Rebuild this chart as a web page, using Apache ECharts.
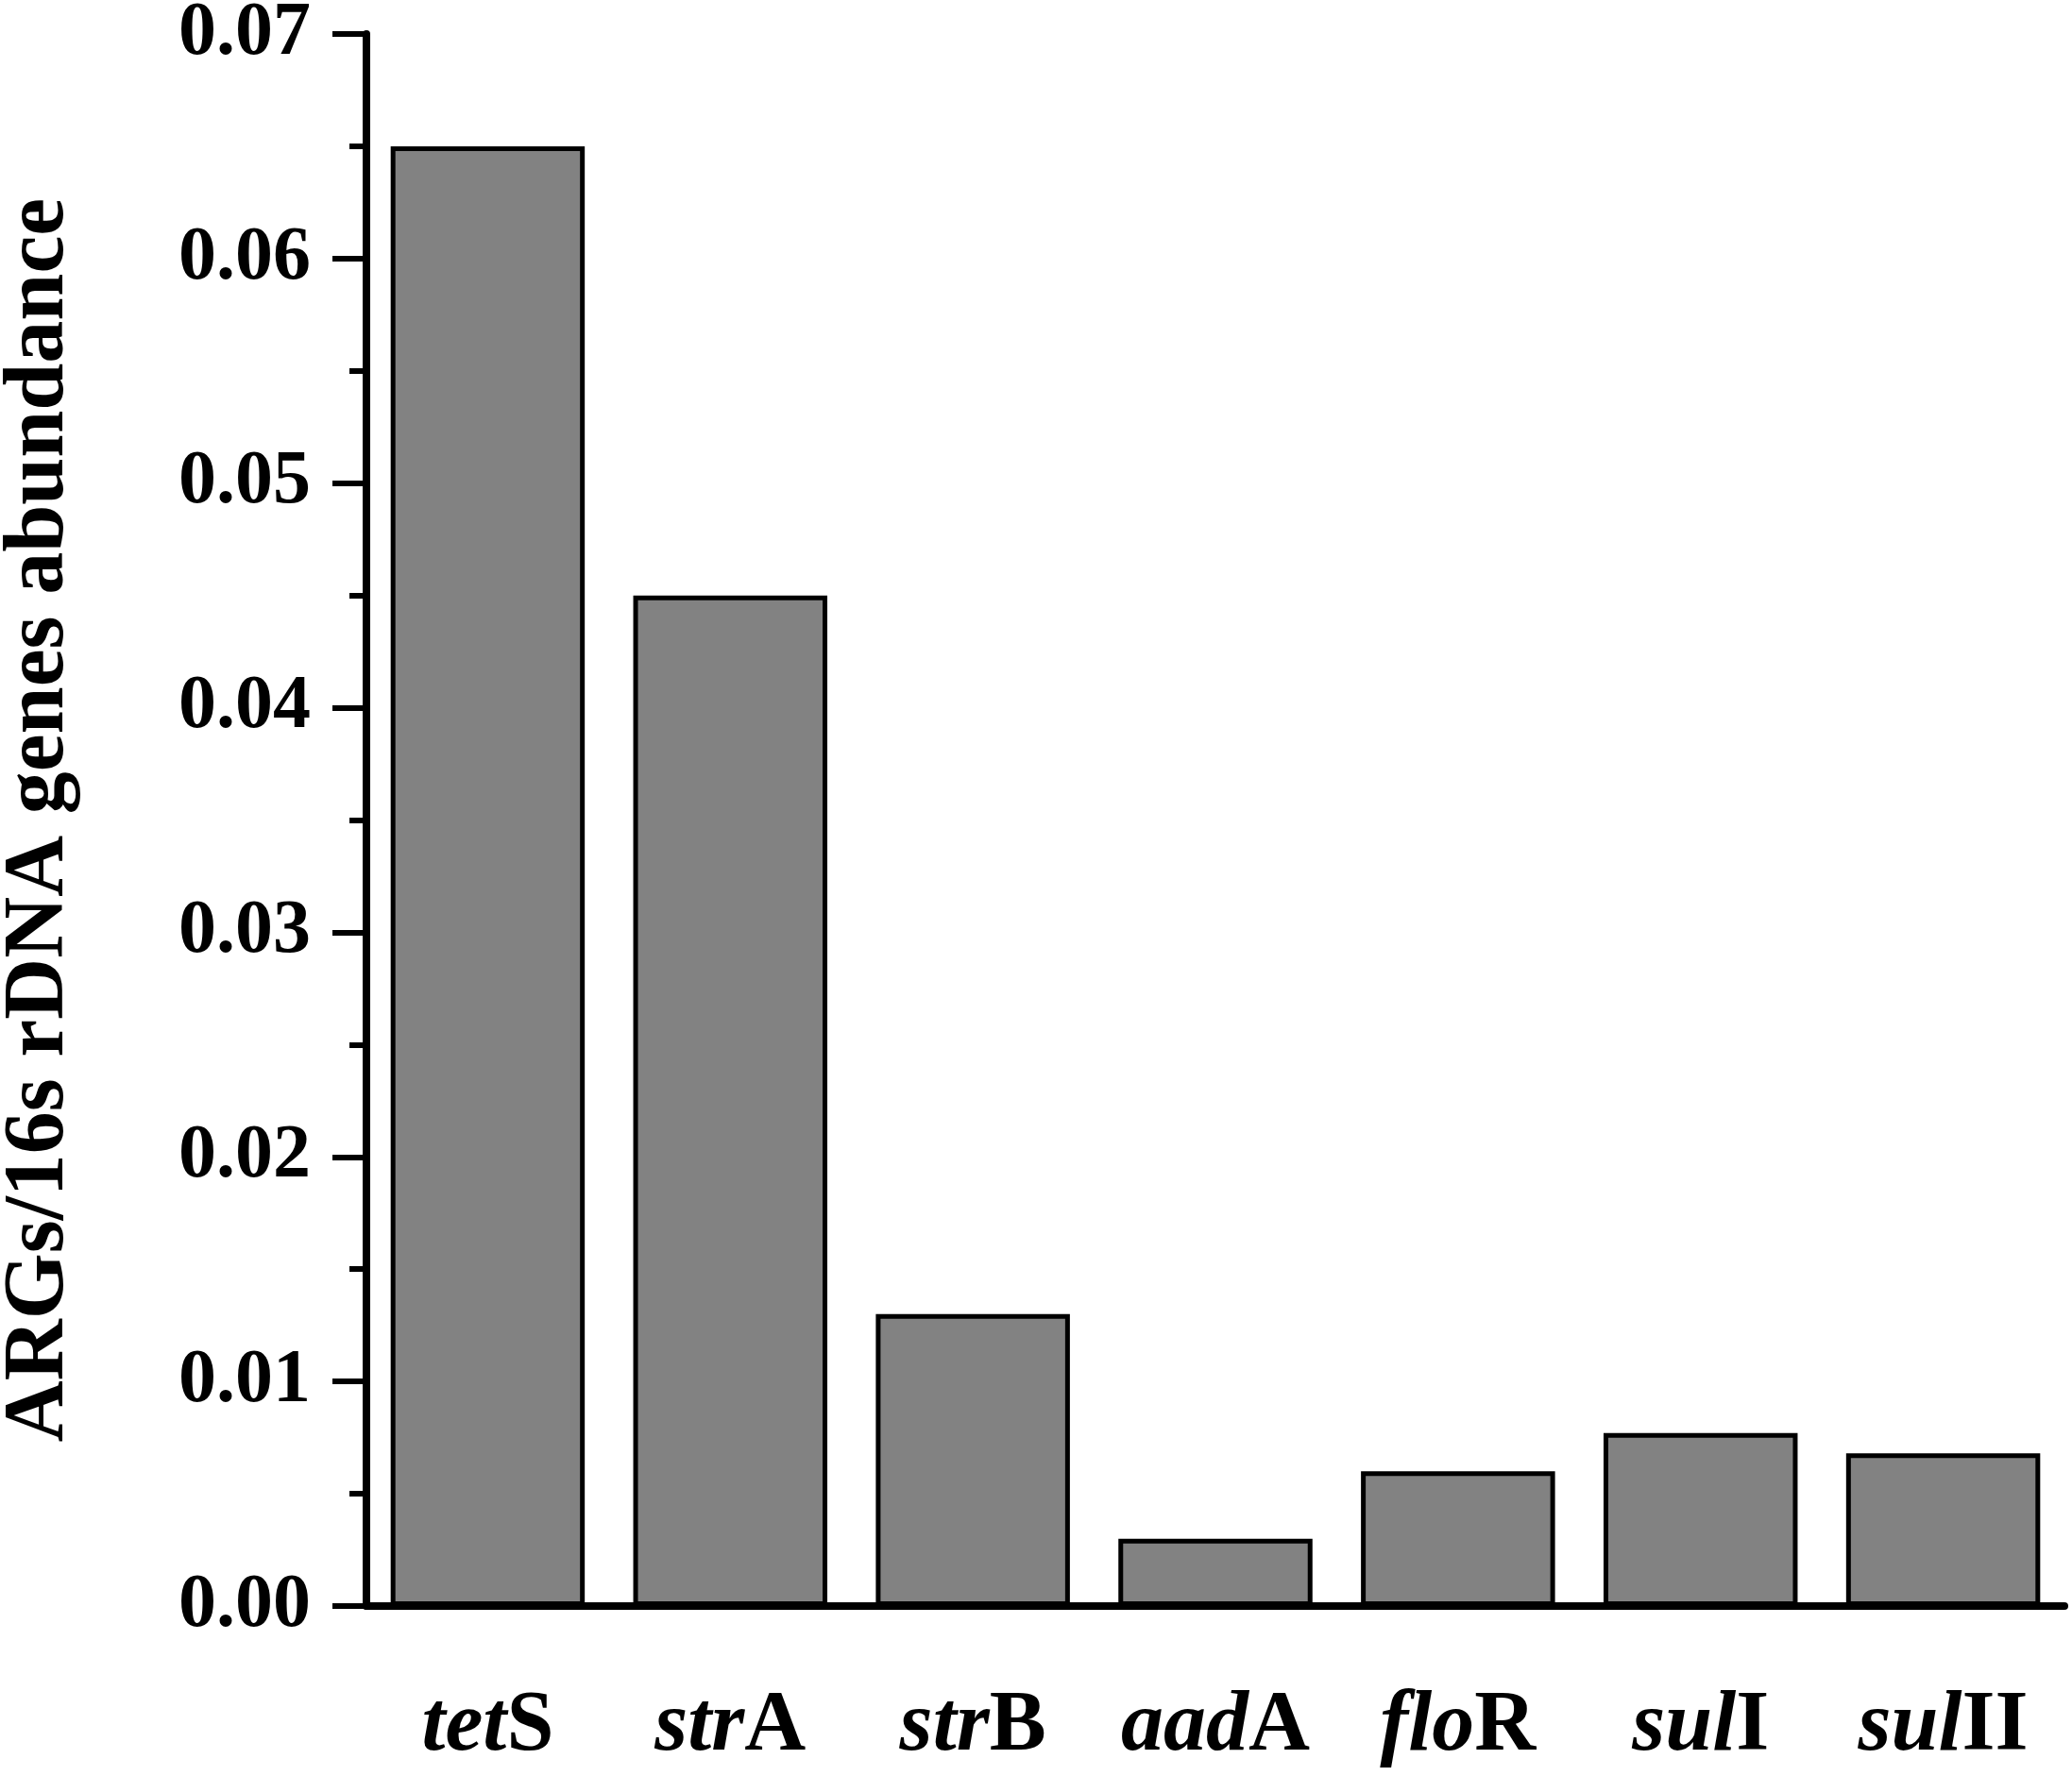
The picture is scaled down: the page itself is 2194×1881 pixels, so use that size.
<!DOCTYPE html>
<html>
<head>
<meta charset="utf-8">
<script src="https://cdn.jsdelivr.net/npm/echarts@6/dist/echarts.min.js"></script>
<style>
  html, body { margin: 0; padding: 0; background: #fff; }
  #chart { width: 2194px; height: 1881px; }
</style>
</head>
<body>
<div id="chart"></div>
<script>
// gene names: italic part + upright part
var geneItalic = ['tet', 'str', 'str', 'aad', 'flo', 'sul', 'sul'];
var geneSuffix = ['S', 'A', 'B', 'A', 'R', 'I', 'II'];
var abundance = [0.065, 0.045, 0.013, 0.003, 0.006, 0.0077, 0.0068];
var yTicks = [0, 0.01, 0.02, 0.03, 0.04, 0.05, 0.06, 0.07];

var categories = geneItalic.map(function (g, i) { return g + geneSuffix[i]; });
var FONT = '"Liberation Serif", "Times New Roman", serif';

var myChart = echarts.init(document.getElementById('chart'));
myChart.setOption({
  backgroundColor: '#fff',
  animation: false,
  grid: { left: 388, right: 8, top: 36, bottom: 180, containLabel: false, outerBoundsMode: 'none' },
  xAxis: {
    type: 'category',
    data: categories,
    boundaryGap: true,
    axisLine: { lineStyle: { color: '#000', width: 8 } },
    axisTick: { alignWithLabel: true, length: 40, lineStyle: { color: '#000', width: 6 } },
    axisLabel: {
      margin: 84,
      formatter: function (v, i) {
        return '{i|' + geneItalic[i] + '}{n|' + geneSuffix[i] + '}';
      },
      rich: {
        i: { fontFamily: FONT, fontSize: 90, fontWeight: 'bold', fontStyle: 'italic', color: '#000' },
        n: { fontFamily: FONT, fontSize: 90, fontWeight: 'bold', color: '#000' }
      }
    },
    splitLine: { show: false }
  },
  yAxis: {
    type: 'value',
    min: yTicks[0],
    max: yTicks[yTicks.length - 1],
    interval: 0.01,
    name: 'ARGs/16s rDNA genes abundance',
    nameLocation: 'middle',
    nameRotate: 90,
    nameGap: 300,
    nameTextStyle: { fontFamily: FONT, fontSize: 90, fontWeight: 'bold', color: '#000' },
    axisLine: { show: true, lineStyle: { color: '#000', width: 8 } },
    axisTick: { show: true, length: 36, lineStyle: { color: '#000', width: 6 } },
    minorTick: { show: true, splitNumber: 2, length: 18, lineStyle: { color: '#000', width: 6 } },
    axisLabel: {
      margin: 59,
      fontFamily: FONT,
      fontSize: 80,
      fontWeight: 'bold',
      color: '#000',
      formatter: function (v) { return v.toFixed(2); }
    },
    splitLine: { show: false }
  },
  series: [{
    type: 'bar',
    data: abundance,
    barCategoryGap: '20%',
    itemStyle: { color: '#828282', borderColor: '#000', borderWidth: 5 }
  }]
});
</script>
</body>
</html>
